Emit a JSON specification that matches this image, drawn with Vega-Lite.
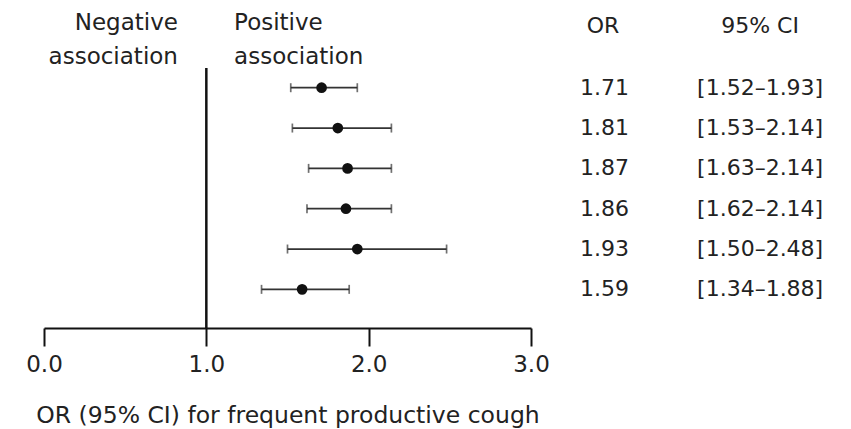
{
  "$schema": "https://vega.github.io/schema/vega-lite/v6.json",
  "width": 487,
  "height": 328,
  "autosize": "none",
  "padding": {"left": 44, "top": 0, "right": 320, "bottom": 101},
  "background": "white",
  "config": {"view": {"stroke": null}, "font": "DejaVu Sans"},
  "datasets": {
    "rows": [
      {"row": 1, "or": 1.71, "lo": 1.52, "hi": 1.93, "or_txt": "1.71", "ci_txt": "[1.52–1.93]"},
      {"row": 2, "or": 1.81, "lo": 1.53, "hi": 2.14, "or_txt": "1.81", "ci_txt": "[1.53–2.14]"},
      {"row": 3, "or": 1.87, "lo": 1.63, "hi": 2.14, "or_txt": "1.87", "ci_txt": "[1.63–2.14]"},
      {"row": 4, "or": 1.86, "lo": 1.62, "hi": 2.14, "or_txt": "1.86", "ci_txt": "[1.62–2.14]"},
      {"row": 5, "or": 1.93, "lo": 1.50, "hi": 2.48, "or_txt": "1.93", "ci_txt": "[1.50–2.48]"},
      {"row": 6, "or": 1.59, "lo": 1.34, "hi": 1.88, "or_txt": "1.59", "ci_txt": "[1.34–1.88]"}
    ]
  },
  "layer": [
    {
      "data": {"name": "rows"},
      "mark": {"type": "rule", "strokeWidth": 1.7, "color": "#333"},
      "encoding": {
        "x": {
          "field": "lo", "type": "quantitative",
          "scale": {"domain": [0, 3], "nice": false, "zero": false},
          "axis": {
            "values": [0, 1, 2, 3], "format": ".1f", "grid": false,
            "domainColor": "#111", "domainWidth": 2, "tickColor": "#111", "tickWidth": 2, "tickSize": 18,
            "labelFont": "DejaVu Sans", "labelFontSize": 23, "labelColor": "#222", "labelPadding": 7,
            "labelFlush": false,
            "title": "OR (95% CI) for frequent productive cough",
            "titleFont": "DejaVu Sans", "titleFontSize": 23.5, "titleFontWeight": "normal", "titleColor": "#222", "titlePadding": 27
          }
        },
        "x2": {"field": "hi"},
        "y": {
          "field": "row", "type": "quantitative",
          "scale": {"domain": [-1.175, 6.958], "reverse": true, "nice": false, "zero": false},
          "axis": null
        }
      }
    },
    {
      "data": {"name": "rows"},
      "mark": {"type": "tick", "orient": "vertical", "size": 9, "thickness": 1.7, "color": "#333"},
      "encoding": {
        "x": {"field": "lo", "type": "quantitative"},
        "y": {"field": "row", "type": "quantitative"}
      }
    },
    {
      "data": {"name": "rows"},
      "mark": {"type": "tick", "orient": "vertical", "size": 9, "thickness": 1.7, "color": "#333"},
      "encoding": {
        "x": {"field": "hi", "type": "quantitative"},
        "y": {"field": "row", "type": "quantitative"}
      }
    },
    {
      "data": {"name": "rows"},
      "mark": {"type": "circle", "size": 115, "opacity": 1, "color": "#111"},
      "encoding": {
        "x": {"field": "or", "type": "quantitative"},
        "y": {"field": "row", "type": "quantitative"}
      }
    },
    {
      "data": {"values": [{}]},
      "mark": {"type": "rule", "strokeWidth": 2.5, "color": "#111"},
      "encoding": {
        "x": {"datum": 1, "type": "quantitative"},
        "y": {"datum": 0.512, "type": "quantitative"},
        "y2": {"datum": 6.958}
      }
    },
    {
      "data": {"name": "rows"},
      "mark": {"type": "text", "align": "left", "baseline": "middle", "fontSize": 22, "color": "#222"},
      "encoding": {
        "x": {"datum": 3.302, "type": "quantitative"},
        "y": {"field": "row", "type": "quantitative"},
        "text": {"field": "or_txt"}
      }
    },
    {
      "data": {"name": "rows"},
      "mark": {"type": "text", "align": "left", "baseline": "middle", "fontSize": 22, "color": "#222"},
      "encoding": {
        "x": {"datum": 4.023, "type": "quantitative"},
        "y": {"field": "row", "type": "quantitative"},
        "text": {"field": "ci_txt"}
      }
    },
    {
      "data": {"values": [{}]},
      "mark": {"type": "text", "align": "right", "baseline": "alphabetic", "fontSize": 23, "color": "#222", "lineBreak": "\n", "lineHeight": 34},
      "encoding": {
        "x": {"datum": 0.825, "type": "quantitative"},
        "y": {"datum": -0.443, "type": "quantitative"},
        "text": {"value": "Negative\nassociation"}
      }
    },
    {
      "data": {"values": [{}]},
      "mark": {"type": "text", "align": "left", "baseline": "alphabetic", "fontSize": 23, "color": "#222", "lineBreak": "\n", "lineHeight": 34},
      "encoding": {
        "x": {"datum": 1.171, "type": "quantitative"},
        "y": {"datum": -0.443, "type": "quantitative"},
        "text": {"value": "Positive\nassociation"}
      }
    },
    {
      "data": {"values": [{}]},
      "mark": {"type": "text", "align": "center", "baseline": "alphabetic", "fontSize": 22, "color": "#222"},
      "encoding": {
        "x": {"datum": 3.444, "type": "quantitative"},
        "y": {"datum": -0.356, "type": "quantitative"},
        "text": {"value": "OR"}
      }
    },
    {
      "data": {"values": [{}]},
      "mark": {"type": "text", "align": "center", "baseline": "alphabetic", "fontSize": 22, "color": "#222"},
      "encoding": {
        "x": {"datum": 4.411, "type": "quantitative"},
        "y": {"datum": -0.356, "type": "quantitative"},
        "text": {"value": "95% CI"}
      }
    }
  ]
}
